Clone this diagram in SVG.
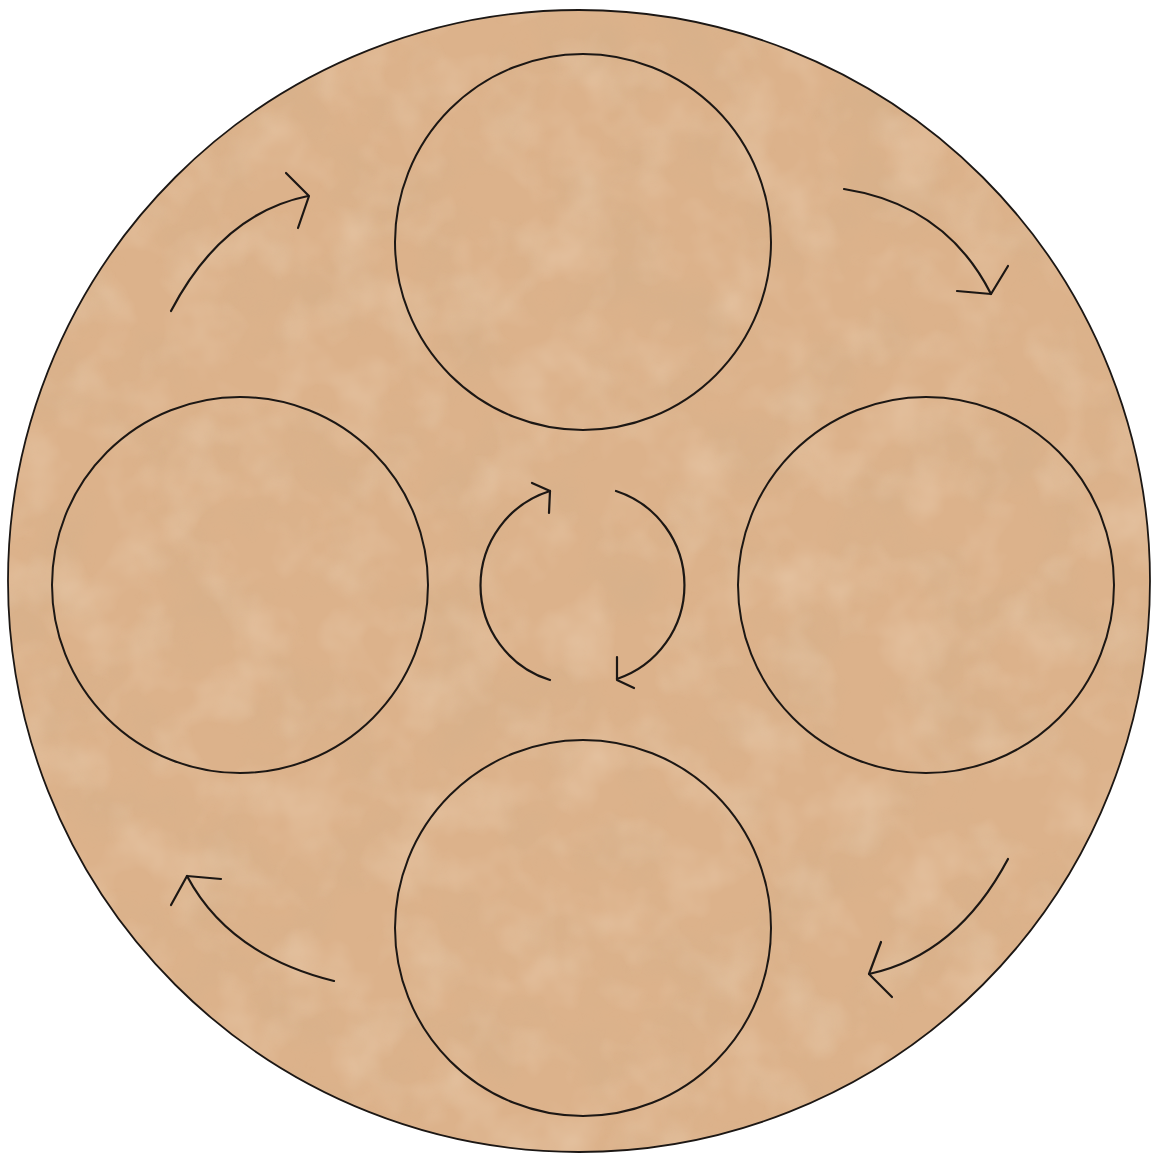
<svg xmlns="http://www.w3.org/2000/svg" width="1158" height="1162" viewBox="0 0 1158 1162">
<style>
.ln{fill:none;stroke:#1c1714;stroke-width:2.2;stroke-linecap:round;stroke-linejoin:round}
.node{fill:none;stroke:#1c1714;stroke-width:2}
</style>
<defs>
<filter id="tex" x="0" y="0" width="100%" height="100%">
<feTurbulence type="fractalNoise" baseFrequency="0.012" numOctaves="4" seed="7" result="n"/>
<feColorMatrix in="n" type="matrix" values="0 0 0 0 0.6  0 0 0 0 0.42  0 0 0 0 0.25  0.6 0 0 0 -0.26"/>
<feComposite in2="SourceGraphic" operator="in"/>
</filter>
<filter id="tex2" x="0" y="0" width="100%" height="100%">
<feTurbulence type="fractalNoise" baseFrequency="0.018" numOctaves="3" seed="21" result="n"/>
<feColorMatrix in="n" type="matrix" values="0 0 0 0 0.93  0 0 0 0 0.8  0 0 0 0 0.64  0 0.55 0 0 -0.24"/>
<feComposite in2="SourceGraphic" operator="in"/>
</filter>
</defs>
<rect width="1158" height="1162" fill="#ffffff"/>
<g id="board">
<circle cx="579" cy="581" r="571" fill="#dcb28b"/>
<circle cx="579" cy="581" r="571" fill="#000" filter="url(#tex)"/>
<circle cx="579" cy="581" r="571" fill="#000" filter="url(#tex2)"/>
<circle cx="579" cy="581" r="571" fill="none" stroke="#1c1714" stroke-width="1.8"/>
</g>
<g id="node-top"><circle class="node" cx="583" cy="242" r="188"/></g>
<g id="node-left"><circle class="node" cx="240" cy="585" r="188"/></g>
<g id="node-right"><circle class="node" cx="926" cy="585" r="188"/></g>
<g id="node-bottom"><circle class="node" cx="583" cy="928" r="188"/></g>
<g id="connectors">
<g id="arrow-top-left"><path class="ln" d="M171 311 Q222 213.5 308 196"/><path class="ln" d="M286 173 L309 196 L298 228"/></g>
<g id="arrow-top-right"><path class="ln" d="M844 189 Q946 205 991 294"/><path class="ln" d="M957 291 L991 294 L1008 266"/></g>
<g id="arrow-bottom-right"><path class="ln" d="M1008 859 Q957 955 869 974"/><path class="ln" d="M881 942 L869 974 L892 997"/></g>
<g id="arrow-bottom-left"><path class="ln" d="M334 981 Q229 955 187 876"/><path class="ln" d="M221 879 L187 876 L171 905"/></g>
<g id="arrow-center-left"><path class="ln" d="M550 680 A99 99 0 0 1 550 491"/><path class="ln" d="M532 483 L550 491 L549 513"/></g>
<g id="arrow-center-right"><path class="ln" d="M616 491 A99 99 0 0 1 617 679"/><path class="ln" d="M617 657 L617 680 L634 688"/></g>
</g>
</svg>
